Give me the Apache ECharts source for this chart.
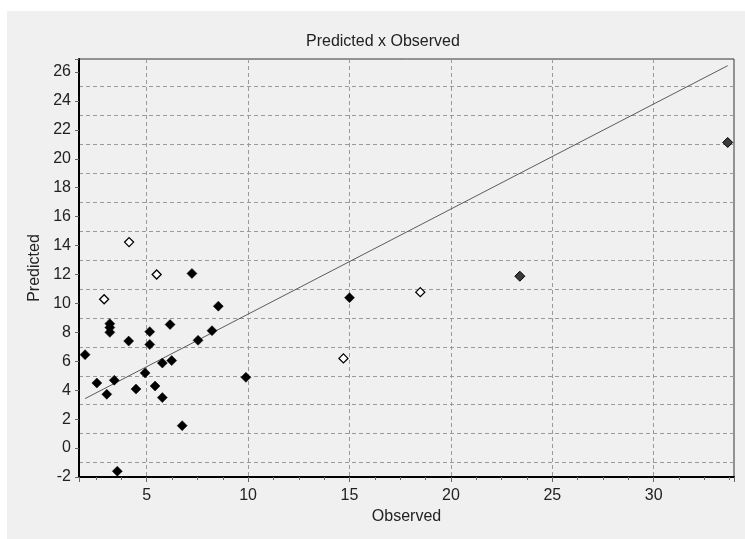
<!DOCTYPE html>
<html>
<head>
<meta charset="utf-8">
<title>Predicted x Observed</title>
<script src="https://cdn.jsdelivr.net/npm/echarts@6/dist/echarts.min.js"></script>
<style>
  html, body { margin: 0; padding: 0; background: #ffffff; }
  #panel { position: absolute; left: 7px; top: 11px; right: 0; bottom: 0; background: #f0f0f0; }
  #chart { position: absolute; left: 0; top: 0; width: 745px; height: 539px; }
</style>
</head>
<body>
<div id="panel"></div>
<div id="chart"></div>
<script>
// observed / predicted pairs
const trainObserved = [1.96, 2.54, 3.03, 3.18, 3.18, 3.18, 3.40, 3.55, 4.11, 4.47, 4.92, 5.15, 5.15, 5.41, 5.77, 5.77, 6.15, 6.23, 6.75, 7.23, 7.53, 8.22, 8.53, 9.89, 15.0];
const trainPredicted = [6.46, 4.50, 3.72, 8.60, 8.33, 8.00, 4.69, -1.60, 7.40, 4.08, 5.19, 8.05, 7.16, 4.29, 5.88, 3.49, 8.54, 6.05, 1.55, 12.07, 7.45, 8.12, 9.81, 4.89, 10.4];
const farObserved = [23.40, 33.65];
const farPredicted = [11.88, 21.13];
const testObserved = [2.90, 4.13, 5.49, 14.7, 18.49];
const testPredicted = [10.29, 14.24, 12.00, 6.2, 10.78];
// fitted line end points
const fitObserved = [1.96, 33.65];
const fitPredicted = [3.42, 26.44];

const xMin = 1.66, xMax = 33.96;
const yMin = -2, yMax = 26.9;

const zip = (xs, ys) => xs.map((x, i) => [x, ys[i]]);

const font = "'Liberation Sans', Arial, sans-serif";
const dashed = { color: '#9a9a9a', width: 1, type: [4, 3] };

const chart = echarts.init(document.getElementById('chart'));
chart.setOption({
  backgroundColor: 'transparent',
  animation: false,
  title: {
    text: 'Predicted x Observed',
    left: 306,
    top: 34,
    padding: 0,
    textStyle: { fontFamily: font, fontSize: 16, fontWeight: 'normal', color: '#222' },
  },
  grid: {
    left: 79,
    right: 11,
    top: 59,
    bottom: 62,
    show: true,
    backgroundColor: 'transparent',
    borderColor: '#333',
    borderWidth: 1,
  },
  xAxis: {
    type: 'value',
    min: xMin,
    max: xMax,
    name: 'Observed',
    nameLocation: 'middle',
    nameGap: 31,
    nameTextStyle: { fontFamily: font, fontSize: 16, color: '#222' },
    axisLine: { show: true, onZero: false, lineStyle: { color: '#000', width: 2 } },
    axisTick: { show: true, inside: false, length: 5, lineStyle: { color: '#666' } },
    minorTick: { show: true, splitNumber: 4, length: 3, lineStyle: { color: '#666' } },
    axisLabel: {
      margin: 11,
      fontFamily: font,
      fontSize: 16,
      color: '#222',
      formatter: (v) => (Math.abs(v % 5) < 1e-9 ? String(v) : ''),
    },
    splitLine: { show: true, showMinLine: false, showMaxLine: false, lineStyle: dashed },
  },
  yAxis: {
    type: 'value',
    min: yMin,
    max: yMax,
    interval: 2,
    name: 'Predicted',
    nameLocation: 'middle',
    nameGap: 32,
    nameTextStyle: { fontFamily: font, fontSize: 16, color: '#222' },
    axisLine: { show: true, onZero: false, lineStyle: { color: '#000', width: 2 } },
    axisTick: { show: true, inside: false, length: 4, lineStyle: { color: '#666' } },
    minorTick: { show: false, splitNumber: 2 },
    axisLabel: {
      margin: 8,
      fontFamily: font,
      fontSize: 16,
      color: '#222',
      formatter: (v) => (Math.abs(v % 2) < 1e-9 ? String(v) : ''),
    },
    splitLine: { show: false },
    minorSplitLine: { show: true, lineStyle: dashed },
  },
  series: [
    {
      name: 'fit',
      type: 'line',
      data: zip(fitObserved, fitPredicted),
      showSymbol: false,
      symbol: 'none',
      silent: true,
      lineStyle: { color: '#5a5a5a', width: 1 },
      z: 2,
    },
    {
      name: 'train',
      type: 'scatter',
      data: zip(trainObserved, trainPredicted),
      symbol: 'diamond',
      symbolSize: 10,
      itemStyle: { color: '#000', borderColor: '#000', borderWidth: 0.5, opacity: 1 },
      z: 3,
    },
    {
      name: 'far',
      type: 'scatter',
      data: zip(farObserved, farPredicted),
      symbol: 'diamond',
      symbolSize: 10,
      itemStyle: { color: '#3a3a3a', borderColor: '#000', borderWidth: 1, opacity: 1 },
      z: 3,
    },
    {
      name: 'test',
      type: 'scatter',
      data: zip(testObserved, testPredicted),
      symbol: 'diamond',
      symbolSize: 9,
      itemStyle: { color: '#fff', borderColor: '#000', borderWidth: 1.3, opacity: 1 },
      z: 3,
    },
  ],
});
</script>
</body>
</html>
